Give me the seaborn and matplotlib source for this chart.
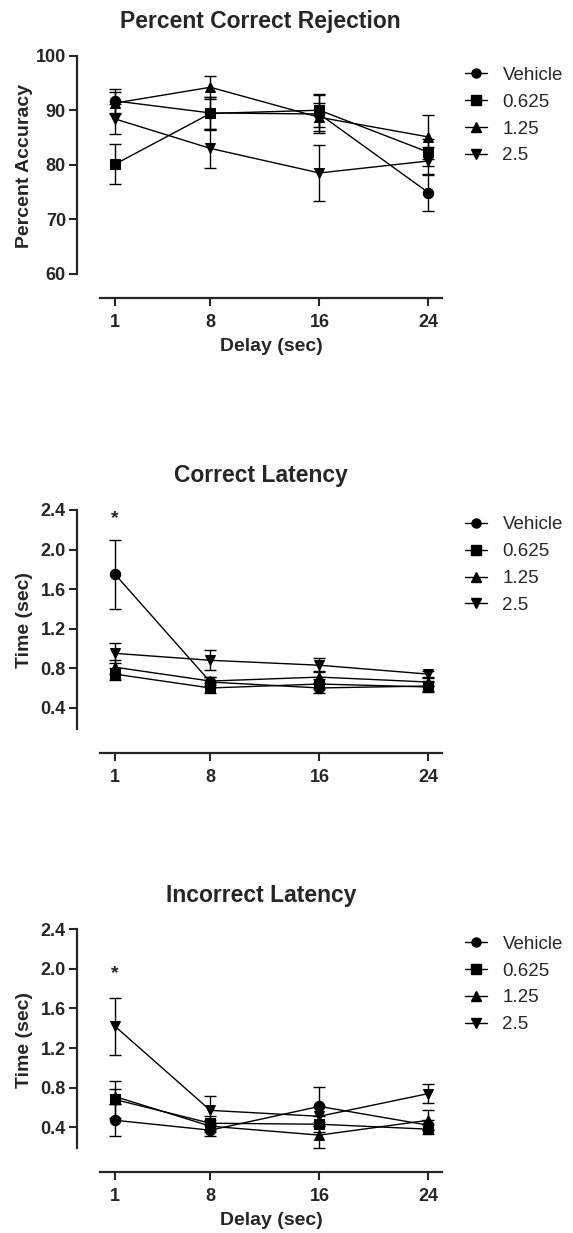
import numpy as np
import pandas as pd
import seaborn as sns
from matplotlib import pyplot as plt
from matplotlib.lines import Line2D

sns.set_style('ticks')
plt.rcParams['font.family'] = ['Liberation Sans', 'DejaVu Sans']
plt.rcParams['font.weight'] = 'bold'

delays = [1, 8, 16, 24]
doses = ['Vehicle', '0.625', '1.25', '2.5']

# percent correct rejection (mean, sem)
acc_vehicle = [91.7, 89.5, 89.3, 74.9]
acc_vehicle_sem = [2.2, 3.0, 3.5, 3.4]
acc_0625 = [80.1, 89.4, 90.0, 82.3]
acc_0625_sem = [3.7, 3.0, 3.0, 2.5]
acc_125 = [91.3, 94.2, 88.7, 85.1]
acc_125_sem = [2.0, 2.1, 2.6, 4.0]
acc_25 = [88.4, 83.0, 78.5, 80.7]
acc_25_sem = [2.8, 3.6, 5.2, 2.5]

# correct latency
cl_vehicle = [1.75, 0.66, 0.60, 0.62]
cl_vehicle_sem = [0.35, 0.05, 0.05, 0.05]
cl_0625 = [0.74, 0.60, 0.64, 0.61]
cl_0625_sem = [0.06, 0.05, 0.05, 0.05]
cl_125 = [0.81, 0.67, 0.71, 0.66]
cl_125_sem = [0.07, 0.04, 0.06, 0.04]
cl_25 = [0.95, 0.88, 0.83, 0.74]
cl_25_sem = [0.10, 0.10, 0.07, 0.03]

# incorrect latency
il_vehicle = [0.47, 0.37, 0.61, 0.42]
il_vehicle_sem = [0.16, 0.06, 0.20, 0.05]
il_0625 = [0.68, 0.44, 0.43, 0.38]
il_0625_sem = [0.19, 0.07, 0.08, 0.05]
il_125 = [0.71, 0.41, 0.32, 0.47]
il_125_sem = [0.08, 0.06, 0.13, 0.10]
il_25 = [1.42, 0.57, 0.51, 0.74]
il_25_sem = [0.29, 0.15, 0.10, 0.10]

markers = {'Vehicle': 'o', '0.625': 's', '1.25': '^', '2.5': 'v'}


def long_df(means, sems):
    rows = []
    for dose, m, s in zip(doses, means, sems):
        for d, mi, si in zip(delays, m, s):
            rows.append({'Delay': d, 'mean': mi, 'sem': si, 'Dose': dose})
    return pd.DataFrame(rows)


panels = [
    dict(title='Percent Correct Rejection', ylabel='Percent Accuracy', xlabel='Delay (sec)',
         means=[acc_vehicle, acc_0625, acc_125, acc_25],
         sems=[acc_vehicle_sem, acc_0625_sem, acc_125_sem, acc_25_sem],
         ylim=(55.66, 100), yticks=[60, 70, 80, 90, 100], ybounds=(60, 100),
         rect=[0.1745, 0.7586, 0.597, 0.1963], star=None, leg_y=0.985),
    dict(title='Correct Latency', ylabel='Time (sec)', xlabel=None,
         means=[cl_vehicle, cl_0625, cl_125, cl_25],
         sems=[cl_vehicle_sem, cl_0625_sem, cl_125_sem, cl_25_sem],
         ylim=(-0.055, 2.4), yticks=[0.4, 0.8, 1.2, 1.6, 2.0, 2.4], ybounds=(0.19, 2.4),
         rect=[0.1745, 0.3895, 0.597, 0.1969], star=2.31, leg_y=1.005),
    dict(title='Incorrect Latency', ylabel='Time (sec)', xlabel='Delay (sec)',
         means=[il_vehicle, il_0625, il_125, il_25],
         sems=[il_vehicle_sem, il_0625_sem, il_125_sem, il_25_sem],
         ylim=(-0.05, 2.4), yticks=[0.4, 0.8, 1.2, 1.6, 2.0, 2.4], ybounds=(0.19, 2.4),
         rect=[0.1745, 0.0497, 0.597, 0.1966], star=1.95, leg_y=1.005),
]

fig = plt.figure(figsize=(5.73, 12.33), dpi=100)

for p in panels:
    ax = fig.add_axes(p['rect'])
    df = long_df(p['means'], p['sems'])
    for dose in doses:
        sub = df[df['Dose'] == dose]
        ax.errorbar(sub['Delay'], sub['mean'], yerr=sub['sem'], fmt='none',
                    ecolor='black', elinewidth=1, capsize=4.5, capthick=1, zorder=1)
    sns.lineplot(data=df, x='Delay', y='mean', style='Dose', markers=markers,
                 dashes=False, color='black', linewidth=1, markersize=7.5,
                 markeredgecolor='black', ax=ax, zorder=2, legend=False)

    ax.set_xlim(-0.1, 25)
    ax.set_ylim(*p['ylim'])
    ax.set_xticks(delays)
    ax.set_xticklabels([str(d) for d in delays])
    ax.set_yticks(p['yticks'])
    if p['yticks'][0] < 1:
        ax.set_yticklabels([f'{t:.1f}' for t in p['yticks']])
    ax.tick_params(labelsize=13, width=1.5, length=6, pad=2)
    ax.tick_params(axis='x', pad=5.5)

    sns.despine(ax=ax)
    ax.spines['left'].set_position(('outward', 16.5))
    ax.spines['left'].set_bounds(*p['ybounds'])
    for s in ['left', 'bottom']:
        ax.spines[s].set_linewidth(1.6)

    ax.set_title(p['title'], fontsize=16.5, fontweight='bold', x=0.47, pad=20)
    ax.set_ylabel(p['ylabel'], fontsize=14, fontweight='bold')
    ax.yaxis.set_label_coords(-0.195, 0.545)
    if p['xlabel']:
        ax.set_xlabel(p['xlabel'], fontsize=14, fontweight='bold', labelpad=5)
    else:
        ax.set_xlabel('')

    if p['star'] is not None:
        ax.text(1, p['star'], '*', ha='center', va='center', fontsize=14, fontweight='bold')

    handles = [Line2D([], [], color='black', linewidth=1, marker=markers[d],
                      markersize=6.5, markeredgecolor='black') for d in doses]
    leg = ax.legend(handles, doses, loc='upper left', bbox_to_anchor=(1.045, p['leg_y']),
                    frameon=False, fontsize=13.5, handlelength=1.2, handletextpad=0.8,
                    labelspacing=0.52, borderaxespad=0, numpoints=1)
    for t in leg.get_texts():
        t.set_fontweight('normal')

fig.savefig('out.png', dpi=100)
